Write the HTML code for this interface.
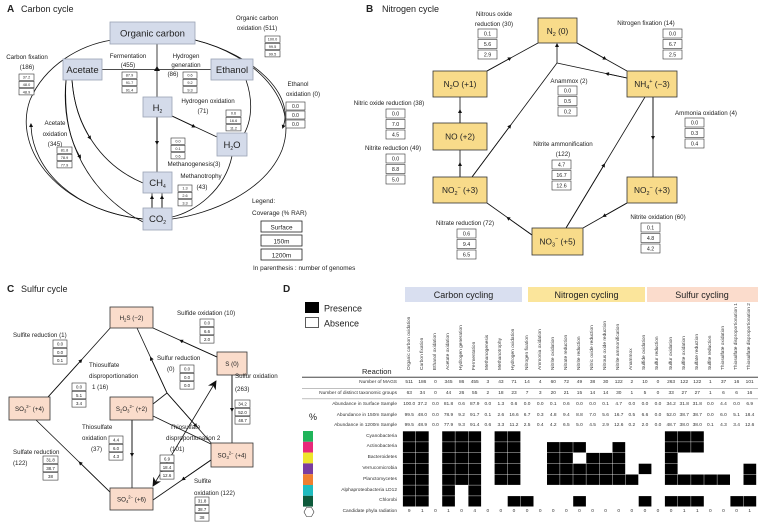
<!DOCTYPE html>
<html><head><meta charset="utf-8">
<style>
html,body{margin:0;padding:0;background:#fff;}
#w{position:relative;width:758px;height:522px;overflow:hidden;font-family:"Liberation Sans",sans-serif;}
svg{position:absolute;left:0;top:0;}
svg text{font-family:"Liberation Sans",sans-serif;fill:#222;}
.row{position:absolute;left:402.7px;display:flex;font-size:4.8px;color:#333;line-height:6px;}
.row span{width:13.1px;text-align:center;flex:none;white-space:nowrap;}
.lab{position:absolute;right:361px;font-size:4.8px;color:#333;white-space:nowrap;line-height:6px;text-align:right;}
#cols{position:absolute;left:402.7px;top:296px;height:74px;display:flex;}
#cols span{width:13.1px;flex:none;writing-mode:vertical-rl;transform:rotate(180deg);font-size:4.8px;color:#333;white-space:nowrap;text-align:left;line-height:13.1px;height:74px;}
</style></head><body><div id="w">
<svg width="758" height="522" viewBox="0 0 758 522">
<defs>
<marker id="a" viewBox="0 0 10 10" refX="5" refY="5" markerWidth="4" markerHeight="4" markerUnits="userSpaceOnUse" orient="auto"><path d="M0,0L10,5L0,10z" fill="#111"/></marker>
<marker id="b" viewBox="0 0 10 10" refX="9" refY="5" markerWidth="9" markerHeight="9" markerUnits="userSpaceOnUse" orient="auto-start-reverse"><path d="M0,0L10,5L0,10L3,5z" fill="#111"/></marker>
</defs>
<!-- ============ PANEL A ============ -->
<text x="7" y="12" font-size="10" font-weight="bold">A</text>
<text x="21" y="12" font-size="9">Carbon cycle</text>
<g fill="none" stroke="#111" stroke-width="0.8">
<path d="M143,219 C60,210 12,150 30,100 C45,65 80,45 112,40"/>
<path d="M143,219 C75,212 32,170 31,125" marker-end="url(#a)"/>
<path d="M195,40 C255,55 300,100 282,150 C265,192 210,214 172,219"/>
<path d="M195,40 C255,55 295,95 283,127" marker-end="url(#a)"/>
<path d="M66,80 C60,140 90,195 143,222"/>
<path d="M66,80 C64,115 70,140 80,157" marker-end="url(#a)"/>
<path d="M72,80 C75,125 100,165 143,183"/>
<path d="M72,80 C74,105 80,122 90,138" marker-end="url(#a)"/>
<path d="M246,80 C253,100 252,120 244,134"/>
<path d="M232,156 C225,190 195,212 172,217"/>
<path d="M102,69.5 L211,69.5"/>
<path d="M157,44 L157,172"/>
<path d="M157,100 L157,143" marker-end="url(#a)"/>
<path d="M172,116 L217,137"/>
<path d="M172,116 L194,126.5" marker-end="url(#a)"/>
<path d="M152,208 L152,193"/><path d="M152,208 L152,197" marker-end="url(#a)"/>
<path d="M162,208 L162,193"/><path d="M162,208 L162,197" marker-end="url(#a)"/>
</g>
<path d="M154,71 L157,66 L160,71z" fill="#111"/>
<g fill="#d4dbea" stroke="#9aa3b5" stroke-width="0.8">
<rect x="110" y="22" width="85" height="22"/>
<rect x="63" y="59" width="39" height="21"/>
<rect x="211" y="59" width="42" height="21"/>
<rect x="143" y="97" width="29" height="20"/>
<rect x="217" y="133" width="30" height="23"/>
<rect x="143" y="172" width="29" height="21"/>
<rect x="143" y="208" width="29" height="22"/>
</g>
<g font-size="9.5" text-anchor="middle">
<text x="152.5" y="36.5">Organic carbon</text>
<text x="82.5" y="73">Acetate</text>
<text x="232" y="73">Ethanol</text>
<text x="157.5" y="111">H<tspan font-size="5" dy="2">2</tspan></text>
<text x="232" y="148">H<tspan font-size="5" dy="2">2</tspan><tspan dy="-2">O</tspan></text>
<text x="157.5" y="186">CH<tspan font-size="5" dy="2">4</tspan></text>
<text x="157.5" y="222">CO<tspan font-size="5" dy="2">2</tspan></text>
</g>
<g font-size="6.2" fill="#333" text-anchor="middle">
<text x="257" y="20">Organic carbon</text><text x="257" y="30">oxidation (511)</text>
<text x="27" y="59">Carbon fixation</text><text x="27" y="69">(186)</text>
<text x="128" y="58">Fermentation</text><text x="128" y="67">(455)</text>
<text x="186" y="58">Hydrogen</text><text x="186" y="67">generation</text><text x="173" y="76">(86)</text>
<text x="298" y="86">Ethanol</text><text x="303" y="96">oxidation (0)</text>
<text x="208" y="103">Hydrogen oxidation</text><text x="203" y="113">(71)</text>
<text x="55" y="125">Acetate</text><text x="55" y="136">oxidation</text><text x="55" y="146">(345)</text>
<text x="194" y="166">Methanogenesis(3)</text>
<text x="201" y="178">Methanotrophy</text><text x="202" y="189">(43)</text>
</g>
<g font-size="6.4" fill="#222">
<text x="252" y="203">Legend:</text>
<text x="252" y="215">Coverage (% RAR)</text>
<text x="253" y="270">In parenthesis : number of genomes</text>
</g>
<g fill="#fff" stroke="#222" stroke-width="0.8">
<rect x="261" y="221" width="41" height="11"/><rect x="261" y="235" width="41" height="11"/><rect x="261" y="249" width="41" height="11"/>
</g>
<g font-size="6.4" text-anchor="middle"><text x="281.5" y="229.5">Surface</text><text x="281.5" y="243.5">150m</text><text x="281.5" y="257.5">1200m</text></g>
<!-- small boxes A -->
<g stroke="#333" stroke-width="0.6" fill="#fff">
<rect x="265" y="36" width="15" height="6.3"/><rect x="265" y="43.3" width="15" height="6.3"/><rect x="265" y="50.6" width="15" height="6.3"/>
<rect x="19" y="74" width="15" height="6.3"/><rect x="19" y="81.3" width="15" height="6.3"/><rect x="19" y="88.6" width="15" height="6.3"/>
<rect x="122" y="72" width="15" height="6.3"/><rect x="122" y="79.3" width="15" height="6.3"/><rect x="122" y="86.6" width="15" height="6.3"/>
<rect x="183" y="72" width="14" height="6.3"/><rect x="183" y="79.3" width="14" height="6.3"/><rect x="183" y="86.6" width="14" height="6.3"/>
<rect x="286" y="102" width="19" height="8"/><rect x="286" y="111" width="19" height="8"/><rect x="286" y="120" width="19" height="8"/>
<rect x="226" y="110" width="15" height="6.3"/><rect x="226" y="117.3" width="15" height="6.3"/><rect x="226" y="124.6" width="15" height="6.3"/>
<rect x="57" y="147" width="15" height="6.3"/><rect x="57" y="154.3" width="15" height="6.3"/><rect x="57" y="161.6" width="15" height="6.3"/>
<rect x="171" y="138" width="14" height="6.3"/><rect x="171" y="145.3" width="14" height="6.3"/><rect x="171" y="152.6" width="14" height="6.3"/>
<rect x="178" y="185" width="14" height="6.3"/><rect x="178" y="192.3" width="14" height="6.3"/><rect x="178" y="199.6" width="14" height="6.3"/>
</g>
<g font-size="3.8" text-anchor="middle" fill="#444">
<text x="272.5" y="40.7">100.0</text><text x="272.5" y="48">99.5</text><text x="272.5" y="55.3">99.5</text>
<text x="26.5" y="78.7">37.2</text><text x="26.5" y="86">48.0</text><text x="26.5" y="93.3">48.9</text>
<text x="129.5" y="76.7">87.9</text><text x="129.5" y="84">91.7</text><text x="129.5" y="91.3">91.4</text>
<text x="190" y="76.7">0.6</text><text x="190" y="84">9.2</text><text x="190" y="91.3">9.3</text>
<text x="295.5" y="108" font-size="5">0.0</text><text x="295.5" y="117" font-size="5">0.0</text><text x="295.5" y="126" font-size="5">0.0</text>
<text x="233.5" y="114.7">0.6</text><text x="233.5" y="122">16.6</text><text x="233.5" y="129.3">11.2</text>
<text x="64.5" y="151.7">81.8</text><text x="64.5" y="159">78.9</text><text x="64.5" y="166.3">77.9</text>
<text x="178" y="142.7">0.0</text><text x="178" y="150">0.1</text><text x="178" y="157.3">0.6</text>
<text x="185" y="189.7">1.3</text><text x="185" y="197">2.6</text><text x="185" y="204.3">3.3</text>
</g>
<!-- ============ PANEL B ============ -->
<text x="366" y="12" font-size="10" font-weight="bold">B</text>
<text x="382" y="12" font-size="9">Nitrogen cycle</text>
<g fill="none" stroke="#111" stroke-width="0.8">
<path d="M487,71 L538,43"/><path d="M487,71 L510,58.3" marker-end="url(#a)"/>
<path d="M577,43 L627,71"/><path d="M577,43 L605,58.7" marker-end="url(#a)"/>
<path d="M627,78 L557,63"/><path d="M627,78 L607,73.7" marker-end="url(#a)"/>
<path d="M557,63 L557,45" marker-end="url(#a)"/>
<path d="M472,177 L557,63"/><path d="M472,177 L510,126" marker-end="url(#a)"/>
<path d="M460,123 L460,97"/><path d="M460,123 L460,111" marker-end="url(#a)"/>
<path d="M460,177 L460,150"/><path d="M460,177 L460,164" marker-end="url(#a)"/>
<path d="M532,235 L487,203"/><path d="M532,235 L508,218" marker-end="url(#a)"/>
<path d="M627,203 L583,228"/><path d="M627,203 L604,216" marker-end="url(#a)"/>
<path d="M653,97 L653,177"/><path d="M653,97 L653,138" marker-end="url(#a)"/>
<path d="M566,228 L645,97"/><path d="M566,228 L604,165" marker-end="url(#a)"/>
</g>
<g fill="#f8db8a" stroke="#333" stroke-width="0.8">
<rect x="538" y="18" width="39" height="25"/>
<rect x="433" y="71" width="54" height="26"/>
<rect x="627" y="71" width="50" height="26"/>
<rect x="433" y="123" width="54" height="27"/>
<rect x="433" y="177" width="54" height="26"/>
<rect x="627" y="177" width="50" height="26"/>
<rect x="532" y="228" width="51" height="27"/>
</g>
<g font-size="8.3" text-anchor="middle">
<text x="557.5" y="34">N<tspan font-size="5.5" dy="2">2</tspan><tspan dy="-2"> (0)</tspan></text>
<text x="460" y="87">N<tspan font-size="5.5" dy="2">2</tspan><tspan dy="-2">O (+1)</tspan></text>
<text x="652" y="87">NH<tspan font-size="5.5" dy="2">4</tspan><tspan font-size="5.5" dy="-6">+</tspan><tspan dy="4"> (−3)</tspan></text>
<text x="460" y="139.5">NO (+2)</text>
<text x="460" y="193">NO<tspan font-size="5.5" dy="2">2</tspan><tspan font-size="5.5" dy="-6">−</tspan><tspan dy="4"> (+3)</tspan></text>
<text x="652" y="193">NO<tspan font-size="5.5" dy="2">2</tspan><tspan font-size="5.5" dy="-6">−</tspan><tspan dy="4"> (+3)</tspan></text>
<text x="557.5" y="244.5">NO<tspan font-size="5.5" dy="2">3</tspan><tspan font-size="5.5" dy="-6">−</tspan><tspan dy="4"> (+5)</tspan></text>
</g>
<g font-size="6.2" fill="#333" text-anchor="middle">
<text x="494" y="16">Nitrous oxide</text><text x="494" y="26">reduction (30)</text>
<text x="646" y="25">Nitrogen fixation (14)</text>
<text x="569" y="83">Anammox (2)</text>
<text x="389" y="105">Nitric oxide reduction (38)</text>
<text x="393" y="150">Nitrite reduction (49)</text>
<text x="706" y="115">Ammonia oxidation (4)</text>
<text x="563" y="146">Nitrite ammonification</text><text x="563" y="156">(122)</text>
<text x="465" y="225">Nitrate reduction (72)</text>
<text x="658" y="219">Nitrite oxidation (60)</text>
</g>
<g stroke="#333" stroke-width="0.6" fill="#fff">
<rect x="478" y="29" width="19" height="9"/><rect x="478" y="39.5" width="19" height="9"/><rect x="478" y="50" width="19" height="9"/>
<rect x="663" y="29" width="19" height="9"/><rect x="663" y="39.5" width="19" height="9"/><rect x="663" y="50" width="19" height="9"/>
<rect x="558" y="86" width="19" height="9"/><rect x="558" y="96.5" width="19" height="9"/><rect x="558" y="107" width="19" height="9"/>
<rect x="386" y="109" width="19" height="9"/><rect x="386" y="119.5" width="19" height="9"/><rect x="386" y="130" width="19" height="9"/>
<rect x="386" y="154" width="19" height="9"/><rect x="386" y="164.5" width="19" height="9"/><rect x="386" y="175" width="19" height="9"/>
<rect x="685" y="118" width="19" height="9"/><rect x="685" y="128.5" width="19" height="9"/><rect x="685" y="139" width="19" height="9"/>
<rect x="552" y="160" width="19" height="9"/><rect x="552" y="170.5" width="19" height="9"/><rect x="552" y="181" width="19" height="9"/>
<rect x="457" y="229" width="19" height="9"/><rect x="457" y="239.5" width="19" height="9"/><rect x="457" y="250" width="19" height="9"/>
<rect x="641" y="223" width="19" height="9"/><rect x="641" y="233.5" width="19" height="9"/><rect x="641" y="244" width="19" height="9"/>
</g>
<g font-size="5.3" text-anchor="middle" fill="#444">
<text x="487.5" y="35.6">0.1</text><text x="487.5" y="46.1">5.6</text><text x="487.5" y="56.6">2.9</text>
<text x="672.5" y="35.6">0.0</text><text x="672.5" y="46.1">6.7</text><text x="672.5" y="56.6">2.5</text>
<text x="567.5" y="92.6">0.0</text><text x="567.5" y="103.1">0.5</text><text x="567.5" y="113.6">0.2</text>
<text x="395.5" y="115.6">0.0</text><text x="395.5" y="126.1">7.0</text><text x="395.5" y="136.6">4.5</text>
<text x="395.5" y="160.6">0.0</text><text x="395.5" y="171.1">8.8</text><text x="395.5" y="181.6">5.0</text>
<text x="694.5" y="124.6">0.0</text><text x="694.5" y="135.1">0.3</text><text x="694.5" y="145.6">0.4</text>
<text x="561.5" y="166.6">4.7</text><text x="561.5" y="177.1">16.7</text><text x="561.5" y="187.6">12.6</text>
<text x="466.5" y="235.6">0.6</text><text x="466.5" y="246.1">9.4</text><text x="466.5" y="256.6">6.5</text>
<text x="650.5" y="229.6">0.1</text><text x="650.5" y="240.1">4.8</text><text x="650.5" y="250.6">4.2</text>
</g>
<!-- ============ PANEL C ============ -->
<text x="7" y="292" font-size="10" font-weight="bold">C</text>
<text x="21" y="292" font-size="9">Sulfur cycle</text>
<text x="283" y="292" font-size="10" font-weight="bold">D</text>
<g fill="none" stroke="#111" stroke-width="0.8">
<path d="M48,397 L112,326"/><path d="M48,397 L81,360.5" marker-end="url(#a)"/>
<path d="M112,494 L36,420"/><path d="M112,494 L80,462.8" marker-end="url(#a)"/>
<path d="M217,357 L153,328"/><path d="M217,357 L181,340.7" marker-end="url(#a)"/>
<path d="M137,328 L167,393 L213,445"/><path d="M167,393 L151,358.3" marker-end="url(#a)"/>
<path d="M167,393 L196,425.8" marker-end="url(#a)"/>
<path d="M153,404 L167,393"/>
<path d="M153,416 L213,445"/>
<path d="M153,486 L216,381" marker-start="url(#b)" marker-end="url(#b)"/>
<path d="M232,375 L232,443"/><path d="M232,375 L232,410" marker-end="url(#a)"/>
<path d="M211,460 L153,500"/><path d="M211,460 L183,479.3" marker-end="url(#a)"/>
<path d="M132,420 L132,488"/><path d="M132,420 L132,455" marker-end="url(#a)"/>
</g>
<g fill="#fadccb" stroke="#333" stroke-width="0.8">
<rect x="110" y="307" width="43" height="21"/>
<rect x="217" y="352" width="30" height="23"/>
<rect x="9" y="397" width="41" height="23"/>
<rect x="110" y="397" width="43" height="23"/>
<rect x="211" y="443" width="42" height="24"/>
<rect x="110" y="488" width="43" height="22"/>
</g>
<g font-size="6.2" text-anchor="middle">
<text x="131.5" y="320">H<tspan font-size="4.2" dy="1.5">2</tspan><tspan dy="-1.5">S (−2)</tspan></text>
<text x="232" y="366">S (0)</text>
<text x="29.5" y="411">SO<tspan font-size="4.2" dy="1.5">3</tspan><tspan font-size="4.2" dy="-4.5">2−</tspan><tspan dy="3"> (+4)</tspan></text>
<text x="131.5" y="411">S<tspan font-size="4.2" dy="1.5">2</tspan><tspan dy="-1.5">O</tspan><tspan font-size="4.2" dy="1.5">3</tspan><tspan font-size="4.2" dy="-4.5">2−</tspan><tspan dy="3"> (+2)</tspan></text>
<text x="232" y="457.5">SO<tspan font-size="4.2" dy="1.5">3</tspan><tspan font-size="4.2" dy="-4.5">2−</tspan><tspan dy="3"> (+4)</tspan></text>
<text x="131.5" y="501.5">SO<tspan font-size="4.2" dy="1.5">4</tspan><tspan font-size="4.2" dy="-4.5">2−</tspan><tspan dy="3"> (+6)</tspan></text>
</g>
<g font-size="6.2" fill="#333">
<text x="177" y="315">Sulfide oxidation (10)</text>
<text x="13" y="337">Sulfite reduction (1)</text>
<text x="89" y="367">Thiosulfate</text><text x="89" y="378">disproportionation</text><text x="92" y="389">1 (16)</text>
<text x="157" y="360">Sulfur reduction</text><text x="167" y="371">(0)</text>
<text x="235" y="378">Sulfur oxidation</text><text x="235" y="391">(263)</text>
<text x="82" y="429">Thiosulfate</text><text x="82" y="440">oxidation</text><text x="91" y="451">(37)</text>
<text x="13" y="454">Sulfate reduction</text><text x="13" y="465">(122)</text>
<text x="170" y="429">Thiosulfate</text><text x="166" y="440">disproportionation 2</text><text x="170" y="451">(101)</text>
<text x="194" y="483">Sulfite</text><text x="194" y="495">oxidation (122)</text>
</g>
<g stroke="#333" stroke-width="0.6" fill="#fff">
<rect x="200" y="319" width="14" height="7.5"/><rect x="200" y="327.3" width="14" height="7.5"/><rect x="200" y="335.6" width="14" height="7.5"/>
<rect x="53" y="340" width="14" height="7.5"/><rect x="53" y="348.3" width="14" height="7.5"/><rect x="53" y="356.6" width="14" height="7.5"/>
<rect x="72" y="383" width="14" height="7.5"/><rect x="72" y="391.3" width="14" height="7.5"/><rect x="72" y="399.6" width="14" height="7.5"/>
<rect x="180" y="365" width="14" height="7.5"/><rect x="180" y="373.3" width="14" height="7.5"/><rect x="180" y="381.6" width="14" height="7.5"/>
<rect x="235" y="400" width="15" height="7.5"/><rect x="235" y="408.3" width="15" height="7.5"/><rect x="235" y="416.6" width="15" height="7.5"/>
<rect x="109" y="436" width="14" height="7.5"/><rect x="109" y="444.3" width="14" height="7.5"/><rect x="109" y="452.6" width="14" height="7.5"/>
<rect x="43" y="456" width="15" height="7.5"/><rect x="43" y="464.3" width="15" height="7.5"/><rect x="43" y="472.6" width="15" height="7.5"/>
<rect x="160" y="455" width="14" height="7.5"/><rect x="160" y="463.3" width="14" height="7.5"/><rect x="160" y="471.6" width="14" height="7.5"/>
<rect x="195" y="497" width="14" height="7.5"/><rect x="195" y="505.3" width="14" height="7.5"/><rect x="195" y="513.6" width="14" height="7.5"/>
</g>
<g font-size="4.4" text-anchor="middle" fill="#444">
<text x="207" y="324.5">0.0</text><text x="207" y="332.8">6.6</text><text x="207" y="341.1">2.0</text>
<text x="60" y="345.5">0.0</text><text x="60" y="353.8">0.0</text><text x="60" y="362.1">0.1</text>
<text x="79" y="388.5">0.0</text><text x="79" y="396.8">5.1</text><text x="79" y="405.1">3.4</text>
<text x="187" y="370.5">0.0</text><text x="187" y="378.8">0.0</text><text x="187" y="387.1">0.0</text>
<text x="242.5" y="405.5">34.2</text><text x="242.5" y="413.8">52.0</text><text x="242.5" y="422.1">48.7</text>
<text x="116" y="441.5">4.4</text><text x="116" y="449.8">6.0</text><text x="116" y="458.1">4.3</text>
<text x="50.5" y="461.5">31.8</text><text x="50.5" y="469.8">38.7</text><text x="50.5" y="478.1">38</text>
<text x="167" y="460.5">6.9</text><text x="167" y="468.8">18.4</text><text x="167" y="477.1">12.6</text>
<text x="202" y="502.5">31.8</text><text x="202" y="510.8">38.7</text><text x="202" y="519.1">38</text>
</g>
<!-- ============ PANEL D ============ -->
<rect x="405" y="287" width="117" height="15" fill="#d9dff0"/>
<rect x="528" y="287" width="117" height="15" fill="#fbe59b"/>
<rect x="647" y="287" width="111" height="15" fill="#fbdccc"/>
<g font-size="9" text-anchor="middle"><text x="463.5" y="298">Carbon cycling</text><text x="586.5" y="298">Nitrogen cycling</text><text x="702" y="298">Sulfur cycling</text></g>
<rect x="305" y="302" width="14" height="11" fill="#000"/>
<rect x="305.5" y="317.5" width="13" height="10" fill="#fff" stroke="#333" stroke-width="0.8"/>
<g font-size="9"><text x="324" y="311.5">Presence</text><text x="324" y="326.5">Absence</text></g>
<text x="362" y="374" font-size="7.5">Reaction</text>
<text x="309" y="420" font-size="9" fill="#444">%</text>
<line x1="302" y1="377.3" x2="758" y2="377.3" stroke="#777" stroke-width="1.3"/>
<line x1="302" y1="388.3" x2="758" y2="388.3" stroke="#999" stroke-width="0.6"/>
<line x1="302" y1="398.8" x2="758" y2="398.8" stroke="#999" stroke-width="0.6"/>
<g>
<rect x="303" y="431" width="10" height="10.8" fill="#20b45a"/>
<rect x="303" y="441.8" width="10" height="10.8" fill="#e8297a"/>
<rect x="303" y="452.6" width="10" height="10.8" fill="#eee52c"/>
<rect x="303" y="463.4" width="10" height="10.8" fill="#7a3ca0"/>
<rect x="303" y="474.2" width="10" height="10.8" fill="#f07f30"/>
<rect x="303" y="485" width="10" height="10.8" fill="#1fbcbf"/>
<rect x="303" y="495.8" width="10" height="10.8" fill="#0e5a3b"/>
</g>
<path d="M304,512 L306.5,507.5 L311.5,507.5 L314,512 L311.5,516.5 L306.5,516.5z" fill="#fff" stroke="#333" stroke-width="0.6"/>
<g id="cells"></g>
</svg>
<div id="cols"><span>Organic carbon oxidation</span><span>Carbon fixation</span><span>Ethanol oxidation</span><span>Acetate oxidation</span><span>Hydrogen generation</span><span>Fermentation</span><span>Methanogenesis</span><span>Methanotrophy</span><span>Hydrogen oxidation</span><span>Nitrogen fixation</span><span>Ammonia oxidation</span><span>Nitrite oxidation</span><span>Nitrate reduction</span><span>Nitrite reduction</span><span>Nitric oxide reduction</span><span>Nitrous oxide reduction</span><span>Nitrite ammonification</span><span>Anammox</span><span>Sulfide oxidation</span><span>Sulfur reduction</span><span>Sulfur oxidation</span><span>Sulfite oxidation</span><span>Sulfate reduction</span><span>Sulfite reduction</span><span>Thiosulfate oxidation</span><span>Thiosulfate disproportionation 1</span><span>Thiosulfate disproportionation 2</span></div>
<div class="lab" style="top:380px">Number of MAGS</div>
<div class="lab" style="top:390.5px">Number of distinct taxonomic groups</div>
<div class="lab" style="top:401.5px">Abundance in Surface Sample</div>
<div class="lab" style="top:412.5px">Abundance in 150m Sample</div>
<div class="lab" style="top:423px">Abundance in 1200m Sample</div>
<div class="lab" style="top:433.5px">Cyanobacteria</div>
<div class="lab" style="top:444px">Actinobacteria</div>
<div class="lab" style="top:455px">Bacteroidetes</div>
<div class="lab" style="top:466px">Verrucomicrobia</div>
<div class="lab" style="top:476.5px">Planctomycetes</div>
<div class="lab" style="top:487.5px">Alphaproteobacteria LD12</div>
<div class="lab" style="top:498px">Chlorobi</div>
<div class="lab" style="top:509px">Candidate phyla radiation</div>
<div class="row" style="top:380px"><span>511</span><span>186</span><span>0</span><span>345</span><span>86</span><span>455</span><span>3</span><span>43</span><span>71</span><span>14</span><span>4</span><span>60</span><span>72</span><span>49</span><span>38</span><span>30</span><span>122</span><span>2</span><span>10</span><span>0</span><span>263</span><span>122</span><span>122</span><span>1</span><span>37</span><span>16</span><span>101</span></div>
<div class="row" style="top:390.5px"><span>63</span><span>34</span><span>0</span><span>44</span><span>26</span><span>55</span><span>2</span><span>18</span><span>23</span><span>7</span><span>3</span><span>20</span><span>21</span><span>15</span><span>14</span><span>14</span><span>30</span><span>1</span><span>5</span><span>0</span><span>33</span><span>27</span><span>27</span><span>1</span><span>6</span><span>6</span><span>16</span></div>
<div class="row" style="top:401.5px"><span>100.0</span><span>37.2</span><span>0.0</span><span>81.8</span><span>0.6</span><span>87.9</span><span>0.0</span><span>1.3</span><span>0.6</span><span>0.0</span><span>0.0</span><span>0.1</span><span>0.6</span><span>0.0</span><span>0.0</span><span>0.1</span><span>4.7</span><span>0.0</span><span>0.0</span><span>0.0</span><span>34.2</span><span>31.8</span><span>31.8</span><span>0.0</span><span>4.4</span><span>0.0</span><span>6.9</span></div>
<div class="row" style="top:412.5px"><span>99.5</span><span>48.0</span><span>0.0</span><span>78.9</span><span>9.2</span><span>91.7</span><span>0.1</span><span>2.6</span><span>16.6</span><span>6.7</span><span>0.3</span><span>4.8</span><span>9.4</span><span>8.8</span><span>7.0</span><span>5.6</span><span>16.7</span><span>0.5</span><span>6.6</span><span>0.0</span><span>52.0</span><span>38.7</span><span>38.7</span><span>0.0</span><span>6.0</span><span>5.1</span><span>18.4</span></div>
<div class="row" style="top:423px"><span>99.5</span><span>48.9</span><span>0.0</span><span>77.9</span><span>9.3</span><span>91.4</span><span>0.6</span><span>3.3</span><span>11.2</span><span>2.5</span><span>0.4</span><span>4.2</span><span>6.5</span><span>5.0</span><span>4.5</span><span>2.9</span><span>12.6</span><span>0.2</span><span>2.0</span><span>0.0</span><span>48.7</span><span>38.0</span><span>38.0</span><span>0.1</span><span>4.3</span><span>3.4</span><span>12.6</span></div>
<div class="row" style="top:509px"><span>9</span><span>1</span><span>0</span><span>1</span><span>0</span><span>4</span><span>0</span><span>0</span><span>0</span><span>0</span><span>0</span><span>0</span><span>0</span><span>0</span><span>0</span><span>0</span><span>0</span><span>0</span><span>0</span><span>0</span><span>0</span><span>1</span><span>1</span><span>0</span><span>0</span><span>0</span><span>1</span></div>
</div>
<script>
var M=[[0,1,3,4,5,7,8,20,21,22],
[0,1,3,4,5,7,8,11,12,13,16,20,21,22],
[0,1,3,4,5,7,8,11,12,14,15,16,20],
[0,1,3,4,5,7,8,11,12,13,14,15,16,18,20,26],
[0,1,3,4,5,7,8,11,12,13,14,15,16,17,20,21,22,23,24,26],
[0,1,3,5],
[0,1,3,5,8,9,13,18,20,21,22,25,26]];
var g=document.getElementById('cells'),s='';
for(var r=0;r<M.length;r++)for(var k=0;k<M[r].length;k++){var c=M[r][k];
s+='<rect x="'+(402.9+c*13.1)+'" y="'+(431.3+r*10.8)+'" width="12.7" height="10.4" fill="#000"/>';}
g.innerHTML=s;
</script>
</body></html>
